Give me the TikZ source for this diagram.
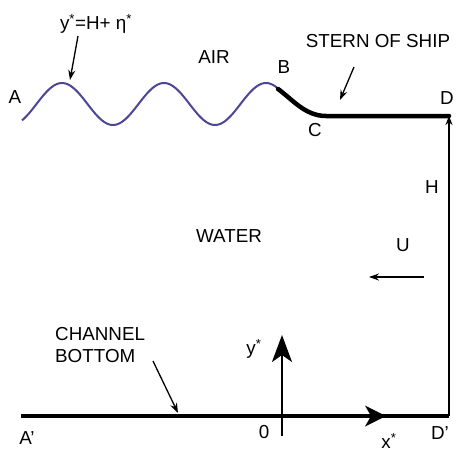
\documentclass[tikz,border=0pt]{standalone}
\usepackage{fontspec}
\setmainfont{Liberation Sans}
\usetikzlibrary{arrows.meta}
\begin{document}
\begin{tikzpicture}[x=1pt,y=-1pt,
  lbl/.style={inner sep=0pt,font=\fontsize{18.8}{22}\selectfont},
  thinarrow/.style={line width=1.3pt,-{Stealth[length=10pt,width=7pt]}},
  heavy/.style={line width=4.5pt},
  wave/.style={line width=2pt,draw={rgb,255:red,75;green,70;blue,150}}]
\useasboundingbox (0,0) rectangle (456,453);
% coordinates
\coordinate (Bp) at (278,89);
\coordinate (Cp) at (326,116);
\coordinate (Dp) at (449,116);
\coordinate (Ap2) at (21,416);
\coordinate (Dp2) at (449,416);
\coordinate (Ox) at (386,416);
\coordinate (Ybot) at (282,436);
\coordinate (Ytop) at (282,335);
% wave
\draw[wave] plot[domain=22:279,samples=120,smooth] (\x,{104-21*cos((\x-62)*3.529412)});
% stern
\draw[heavy,line cap=round] (Bp) .. controls (292,99) and (305,116) .. (Cp) -- (Dp);
% bottom
\draw[heavy] (Ap2) -- (Dp2);
\draw[line width=0pt,-{Stealth[length=21pt,width=21pt,inset=6pt]}] (360,416) -- (Ox);
% right side H
\draw[line width=1.5pt,-{Stealth[length=9pt,width=7pt]}] (Dp2) -- (Dp);
% y axis
\draw[line width=2.2pt,-{Stealth[length=27pt,width=20pt,inset=7pt]}] (Ybot) -- (Ytop);
% labels
\node[lbl] (eq) at (96,24) {y\textsuperscript{*}=H+ η\textsuperscript{*}};
\node[lbl] (A) at (15,97) {A};
\node[lbl] (air) at (214,57) {AIR};
\node[lbl] (B) at (284,67) {B};
\node[lbl] (stern) at (378,41) {STERN OF SHIP};
\node[lbl] (C) at (315,130) {C};
\node[lbl] (D) at (447,98) {D};
\node[lbl] (H) at (432,187) {H};
\node[lbl] (U) at (403,245) {U};
\node[lbl] (water) at (229,236) {WATER};
\node[lbl,align=left,anchor=north west] (chan) at (55,327) {CHANNEL\\BOTTOM};
\node[lbl] (ys) at (254,349) {y\textsuperscript{*}};
\node[lbl] (zero) at (264,432) {0};
\node[lbl] (xs) at (389,441) {x\textsuperscript{*}};
\node[lbl] (Dpr) at (440,433) {D’};
\node[lbl] (Apr) at (27,438) {A’};
% pointer arrows
\coordinate (eqTip) at (70,80);
\coordinate (sternTip) at (340,100);
\coordinate (chanTip) at (178,413);
\coordinate (Ustart) at (424,277);
\coordinate (Uend) at (369,277);
\draw[thinarrow] (78,36) -- (eqTip);
\draw[thinarrow] (354,67) -- (sternTip);
\draw[thinarrow] (153,361) -- (chanTip);
\draw[thinarrow] (Ustart) -- (Uend);
\end{tikzpicture}
\end{document}
